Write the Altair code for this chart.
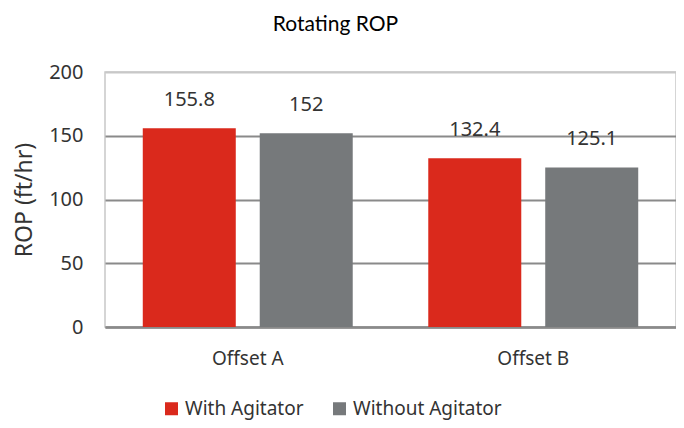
import altair as alt
import pandas as pd

categories = ["Offset A", "Offset A", "Offset B", "Offset B"]
series = ["With Agitator", "Without Agitator", "With Agitator", "Without Agitator"]
values = [155.8, 152.0, 132.4, 125.1]
labels = ["155.8", "152", "132.4", "125.1"]
series_order = ["With Agitator", "Without Agitator"]
colors = ["#DA291C", "#76797B"]
y_ticks = [0, 50, 100, 150, 200]

df = pd.DataFrame({"cat": categories, "series": series, "value": values, "label": labels})

FONT = "Noto Sans"
TXT = "#333333"

x = alt.X("cat:N", title=None,
          scale=alt.Scale(paddingInner=0, paddingOuter=0),
          axis=alt.Axis(labelAngle=0, labelFontSize=19, labelFont=FONT, labelColor=TXT,
                        labelPadding=22, ticks=False, domainColor="#8a8a8a", domainWidth=2.5,
                        grid=False))
xo = alt.XOffset("series:N", sort=series_order,
                 scale=alt.Scale(paddingInner=0.205, paddingOuter=0.323))
y = alt.Y("value:Q", title="ROP (ft/hr)",
          scale=alt.Scale(domain=[0, 200], nice=False),
          axis=alt.Axis(values=y_ticks, labelFontSize=20, labelFont=FONT, labelColor=TXT,
                        labelPadding=22, ticks=False, domain=False,
                        titleFontSize=23, titleFont=FONT, titleFontWeight="normal",
                        titleColor=TXT, titlePadding=12,
                        gridColor={"expr": "datum.value == 200 ? '#c8c8c8' : '#8a8a8a'"},
                        gridWidth=2))

bars = alt.Chart(df).mark_bar(size=93).encode(
    x=x, xOffset=xo, y=y,
    color=alt.Color("series:N", sort=series_order, title=None,
                    scale=alt.Scale(domain=series_order, range=colors),
                    legend=alt.Legend(orient="none", legendX=57, legendY=327, direction="horizontal",
                                      symbolType="square", symbolSize=169, symbolStrokeWidth=0,
                                      labelFontSize=19, labelFont=FONT, labelColor=TXT,
                                      columnPadding=26, labelOffset=4)),
)

text = alt.Chart(df).mark_text(fontSize=20, font=FONT, color=TXT, dy=-28, baseline="middle").encode(
    x=alt.X("cat:N"), xOffset=alt.XOffset("series:N", sort=series_order), y="value:Q", text="label:N"
)

chart = alt.layer(bars, text).properties(
    width=571, height=255,
    autosize=alt.AutoSizeParams(type="none"),
    padding={"left": 97, "top": 64, "right": 0, "bottom": 93},
    title=alt.Title("Rotating ROP", fontSize=21, font="Lato", fontWeight="normal", color="#000000",
                    anchor="middle", dx=-55, offset=10, baseline="alphabetic"),
).configure_view(stroke="#c8c8c8", strokeWidth=1.5)

chart.save("out.html", embed_options={"renderer": "svg", "actions": False})
